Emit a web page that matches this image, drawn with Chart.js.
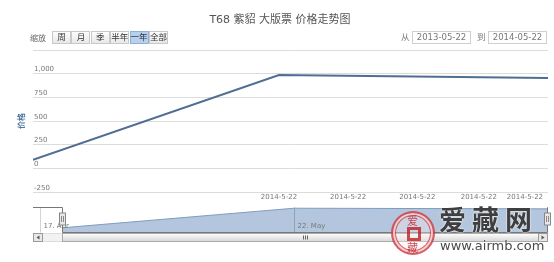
<!DOCTYPE html>
<html>
<head>
<meta charset="utf-8">
<script src="https://cdn.jsdelivr.net/npm/chart.js@4/dist/chart.umd.min.js"></script>
<style>
  body { margin: 0; background: #fff; font-family: "DejaVu Sans", "Noto Sans CJK SC", sans-serif; }
  #wrap { position: relative; width: 554px; height: 262px; overflow: hidden; }
  canvas { position: absolute; left: 0; top: 0; }
  .abs { position: absolute; white-space: nowrap; }
  #title { left: 6px; top: 12px; width: 548px; text-align: center; font-size: 11px; line-height: 16px; color: #555; }
  #zoomLbl { left: 30px; top: 32px; font-size: 8px; line-height: 13px; color: #666; }
  #zoomBtns { left: 52px; top: 31px; display: flex; }
  .btn { box-sizing: border-box; width: 19px; height: 13px; margin-right: 0.4px; border: 1px solid #c9c9c9;
         background: linear-gradient(#fdfdfd, #e8e8e8); font-size: 8.5px; line-height: 11px; text-align: center; color: #333; }
  .btn.on { background: #b9d0ec; border-color: #8fb0d8; color: #234; }
  .lbl { font-size: 8.5px; line-height: 13px; color: #777; top: 31px; }
  .box { box-sizing: border-box; top: 31px; width: 59px; height: 13px; border: 1px solid #cfcfcf; font-size: 8.5px;
         line-height: 11px; text-align: center; color: #777; }
  .seal { left: 391px; top: 211px; width: 44px; height: 44px; box-sizing: border-box; border-radius: 50%;
          border: 2px solid rgba(200,40,50,.75); box-shadow: inset 0 0 0 2px rgba(255,255,255,.7), inset 0 0 0 3px rgba(200,40,50,.7);
          background: rgba(255,235,235,.35); }
  .seal span { position: absolute; color: rgba(190,30,40,.8); font-size: 11px; line-height: 11px; font-family: "Noto Sans CJK SC"; }
  .seal .hole { left: 14px; top: 14px; width: 8px; height: 8px; border: 3px solid rgba(190,30,40,.8); }
  #wmText { left: 439px; top: 203px; font-size: 27px; line-height: 32px; letter-spacing: 6px; font-weight: bold;
            font-family: "Noto Sans CJK SC"; color: #3f3f3f; text-shadow: 0 0 2px #fff, 0 0 1px #fff; }
  #wmUrl { left: 440px; top: 238px; font-size: 13px; line-height: 16px; color: #4a4a4a; text-shadow: 0 0 2px #fff; }
</style>
</head>
<body>
<div id="wrap">
  <canvas id="mainChart" width="554" height="205"></canvas>
  <canvas id="navChart" width="554" height="262"></canvas>
  <div id="title" class="abs"></div>
  <div id="zoomLbl" class="abs">缩放</div>
  <div id="zoomBtns" class="abs"></div>
  <div id="fromLbl" class="abs lbl" style="left:401px">从</div>
  <div id="fromBox" class="abs box" style="left:412px"></div>
  <div id="toLbl" class="abs lbl" style="left:477px">到</div>
  <div id="toBox" class="abs box" style="left:488px"></div>
  <div class="abs seal"><span style="left:14px;top:2px">爱</span><span style="left:14px;top:29px">藏</span><span class="hole"></span></div>
  <div id="wmText" class="abs">爱藏网</div>
  <div id="wmUrl" class="abs">www.airmb.com</div>
</div>
<script>
const chartTitle = "T68 紫貂 大版票 价格走势图"
const yTitle = "价格"
const zoomButtons = ["周", "月", "季", "半年", "一年", "全部"]
const zoomSelected = 4
const rangeFrom = "2013-05-22"
const rangeTo = "2014-05-22"

const dates = ["2014-04-20", "2014-05-22", "2014-06-26"]
const prices = [90, 985, 955]

const yTicks = [-250, 0, 250, 500, 750, 1000, 1250]
const xTickDates = ["2014-05-22", "2014-05-31", "2014-06-09", "2014-06-17", "2014-06-23"]
const xTickLabels = ["2014-5-22", "2014-5-22", "2014-5-22", "2014-5-22", "2014-5-22"]

const navRange = ["2014-04-16", "2014-06-26"]
const navTickDates = ["2014-04-17", "2014-05-22"]
const navTickLabels = ["17. Apr", "22. May"]

const day = (s) => Date.parse(s + "T00:00:00Z") / 864e5
const points = dates.map((d, i) => ({ x: day(d), y: prices[i] }))

document.getElementById("title").textContent = chartTitle
document.getElementById("fromBox").textContent = rangeFrom
document.getElementById("toBox").textContent = rangeTo
const btns = document.getElementById("zoomBtns")
zoomButtons.forEach((b, i) => {
  const el = document.createElement("div")
  el.className = "btn" + (i === zoomSelected ? " on" : "")
  el.textContent = b
  btns.appendChild(el)
})

Chart.defaults.font.family = '"DejaVu Sans", "Noto Sans CJK SC", sans-serif'

new Chart(document.getElementById("mainChart"), {
  type: "line",
  data: {
    datasets: [{
      data: points,
      borderColor: "#506d92",
      borderWidth: 2,
      pointRadius: 0,
      tension: 0,
    }],
  },
  options: {
    responsive: false,
    animation: false,
    layout: { padding: { top: 50, right: 6, left: 0, bottom: 0 } },
    plugins: { legend: { display: false }, tooltip: { enabled: false } },
    scales: {
      x: {
        type: "linear",
        min: day(dates[0]),
        max: day(dates[dates.length - 1]),
        afterBuildTicks: (s) => { s.ticks = xTickDates.map((d) => ({ value: day(d) })) },
        afterFit: (s) => { s.height = 13 },
        grid: { display: false, drawTicks: false },
        border: { display: false },
        ticks: {
          autoSkip: false, maxRotation: 0, padding: 1,
          font: { size: 7 }, color: "#777",
          callback: (v, i) => xTickLabels[i],
        },
      },
      y: {
        min: yTicks[0],
        max: yTicks[yTicks.length - 1],
        afterBuildTicks: (s) => { s.ticks = yTicks.map((v) => ({ value: v })) },
        afterFit: (s) => { s.width = 33 },
        grid: { color: "#dcdcdc", drawTicks: false },
        border: { display: false },
        ticks: {
          mirror: true, padding: 1, labelOffset: -4,
          font: { size: 7 }, color: "#777",
          callback: (v) => (v === yTicks[yTicks.length - 1] ? "" : v.toLocaleString("en-US")),
        },
        title: {
          display: true, text: yTitle, color: "#4d759e",
          font: { size: 8, weight: "bold" }, padding: { top: 17, bottom: 0 },
        },
      },
    },
  },
})

// navigator decorations: tick lines, labels, outline, handles, scrollbar
const navDecor = {
  id: "navDecor",
  afterDatasetsDraw(chart) {
    const { ctx, chartArea: a, scales: { x } } = chart
    const l = Math.round(x.getPixelForValue(day(dates[0]))) + 0.5
    const r = Math.round(x.getPixelForValue(day(dates[dates.length - 1]))) - 0.5
    const top = a.top + 0.5, bot = a.bottom + 0.5
    ctx.save()
    ctx.lineWidth = 1
    ctx.font = '7px "DejaVu Sans"'
    ctx.textBaseline = "middle"
    navTickDates.forEach((d, i) => {
      const px = Math.round(x.getPixelForValue(day(d))) + 0.5
      ctx.strokeStyle = i === 0 ? "#d4d4d4" : "#8fa2ba"
      ctx.beginPath(); ctx.moveTo(px, top); ctx.lineTo(px, bot); ctx.stroke()
      ctx.fillStyle = "#777"
      ctx.fillText(navTickLabels[i], px + 3, a.bottom - 6)
    })
    // outline
    ctx.strokeStyle = "#777"
    ctx.beginPath()
    ctx.moveTo(a.left, top); ctx.lineTo(l, top); ctx.lineTo(l, bot)
    ctx.lineTo(r, bot); ctx.lineTo(r, top); ctx.lineTo(a.right, top)
    ctx.stroke()
    // scrollbar
    const sy = a.bottom + 1.5, sh = 8
    ctx.fillStyle = "#f2f2f2"; ctx.strokeStyle = "#ddd"
    ctx.fillRect(a.left, sy, a.right - a.left, sh); ctx.strokeRect(a.left + 0.5, sy, a.right - a.left - 1, sh)
    const g = ctx.createLinearGradient(0, sy, 0, sy + sh)
    g.addColorStop(0, "#ffffff"); g.addColorStop(1, "#d6d6d6")
    ctx.fillStyle = g; ctx.strokeStyle = "#aaa"
    ctx.fillRect(l, sy, r - l, sh); ctx.strokeRect(l, sy, r - l, sh)
    const cx = Math.round((l + r) / 2) + 0.5
    ctx.strokeStyle = "#666"
    for (const dx of [-2, 0, 2]) { ctx.beginPath(); ctx.moveTo(cx + dx, sy + 2); ctx.lineTo(cx + dx, sy + sh - 2); ctx.stroke() }
    // scrollbar buttons
    for (const [bx, dir] of [[a.left + 0.5, -1], [a.right - 9.5, 1]]) {
      ctx.fillStyle = "#ebe7e8"; ctx.strokeStyle = "#999"
      ctx.fillRect(bx, sy, 9, sh); ctx.strokeRect(bx, sy, 9, sh)
      ctx.fillStyle = "#555"; ctx.beginPath()
      const mx = bx + 4.5, my = sy + sh / 2
      ctx.moveTo(mx + 1.5 * dir, my); ctx.lineTo(mx - 1.5 * dir, my - 2); ctx.lineTo(mx - 1.5 * dir, my + 2); ctx.fill()
    }
    // handles
    for (const hx of [l, r]) {
      ctx.fillStyle = "#ebe7e8"; ctx.strokeStyle = "#888"
      ctx.fillRect(hx - 3, a.top + 6, 6, 12); ctx.strokeRect(hx - 3, a.top + 6, 6, 12)
      ctx.beginPath(); ctx.moveTo(hx - 1, a.top + 9); ctx.lineTo(hx - 1, a.top + 15)
      ctx.moveTo(hx + 1, a.top + 9); ctx.lineTo(hx + 1, a.top + 15); ctx.stroke()
    }
    ctx.restore()
  },
}

new Chart(document.getElementById("navChart"), {
  type: "line",
  data: {
    datasets: [{
      data: points,
      borderColor: "#7f9cc0",
      borderWidth: 1,
      backgroundColor: "#b3c6dd",
      fill: "start",
      pointRadius: 0,
      tension: 0,
    }],
  },
  options: {
    responsive: false,
    animation: false,
    events: [],
    layout: { padding: { top: 207, right: 6, left: 33, bottom: 30 } },
    plugins: { legend: { display: false }, tooltip: { enabled: false } },
    scales: {
      x: { type: "linear", display: false, min: day(navRange[0]), max: day(navRange[1]) },
      y: { display: false, min: -100, max: 1040 },
    },
  },
  plugins: [navDecor],
})
</script>
</body>
</html>
